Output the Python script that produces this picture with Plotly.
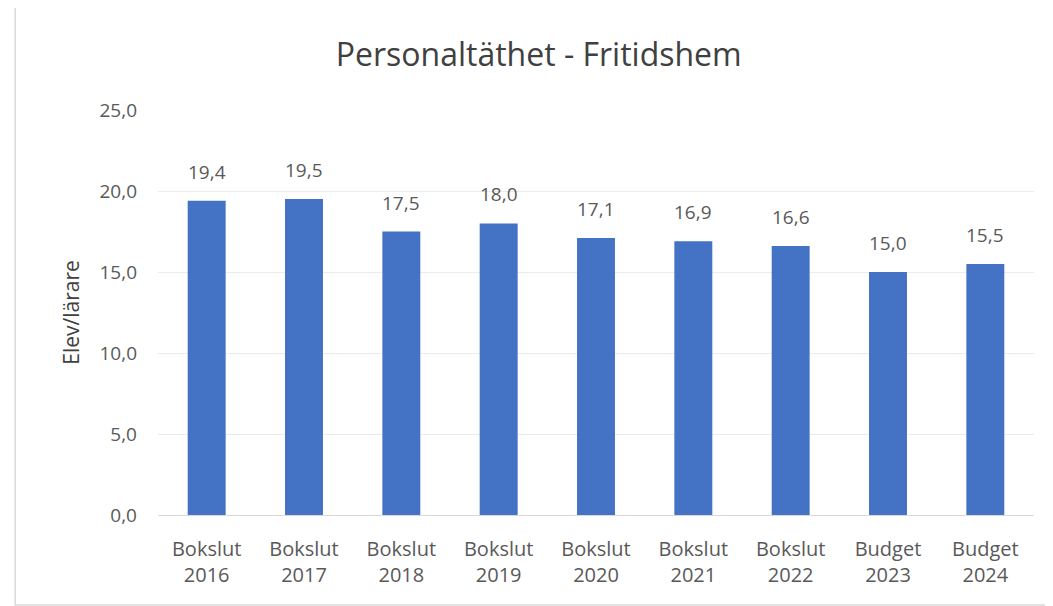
import plotly.graph_objects as go

categories = ["Bokslut<br>2016", "Bokslut<br>2017", "Bokslut<br>2018", "Bokslut<br>2019",
              "Bokslut<br>2020", "Bokslut<br>2021", "Bokslut<br>2022", "Budget<br>2023", "Budget<br>2024"]
values = [19.4, 19.5, 17.5, 18.0, 17.1, 16.9, 16.6, 15.0, 15.5]
tick_vals = [0, 5, 10, 15, 20, 25]
tick_text = ["0,0", "5,0", "10,0", "15,0", "20,0", "25,0"]
labels = [f"{v:.1f}".replace(".", ",") for v in values]

font_family = "Open Sans, Noto Sans, sans-serif"
text_color = "#595959"

fig = go.Figure(go.Bar(
    x=categories, y=values,
    marker=dict(color="#4472C4", line=dict(width=0)),
))

annotations = [
    dict(x=c, y=v, text=t, xref="x", yref="y", showarrow=False,
         yanchor="bottom", yshift=14,
         font=dict(size=19, color=text_color, family=font_family))
    for c, v, t in zip(categories, values, labels)
]

fig.update_layout(
    width=1053, height=606,
    margin=dict(l=150, r=27, t=102, b=99),
    paper_bgcolor="white", plot_bgcolor="white",
    bargap=0.61,
    showlegend=False,
    title=dict(text="Personaltäthet - Fritidshem", x=0.504, xanchor="center",
               y=0.922, yanchor="middle",
               font=dict(size=32, color="#404040", family=font_family)),
    font=dict(family=font_family, color=text_color),
    xaxis=dict(tickfont=dict(size=20, color=text_color), showgrid=False,
               showline=True, linecolor="#D9D9D9", linewidth=1, ticks="",
               ticklabelstandoff=16),
    yaxis=dict(range=[0, 25], tickvals=tick_vals, ticktext=tick_text,
               tickfont=dict(size=19, color=text_color),
               showgrid=True, gridcolor="#EBEBEB", gridwidth=1,
               zeroline=False, showline=False, ticks="", ticklen=0,
               ticklabelstandoff=20,
               title=dict(text="Elev/lärare", font=dict(size=21, color="#404040"), standoff=14)),
    annotations=annotations,
    shapes=[dict(type="rect", xref="paper", yref="paper",
                 x0=-0.163, x1=1.05, y0=-0.222, y1=1.254,
                 line=dict(color="#D9D9D9", width=1.5))],
)

fig.write_html("out.html")
